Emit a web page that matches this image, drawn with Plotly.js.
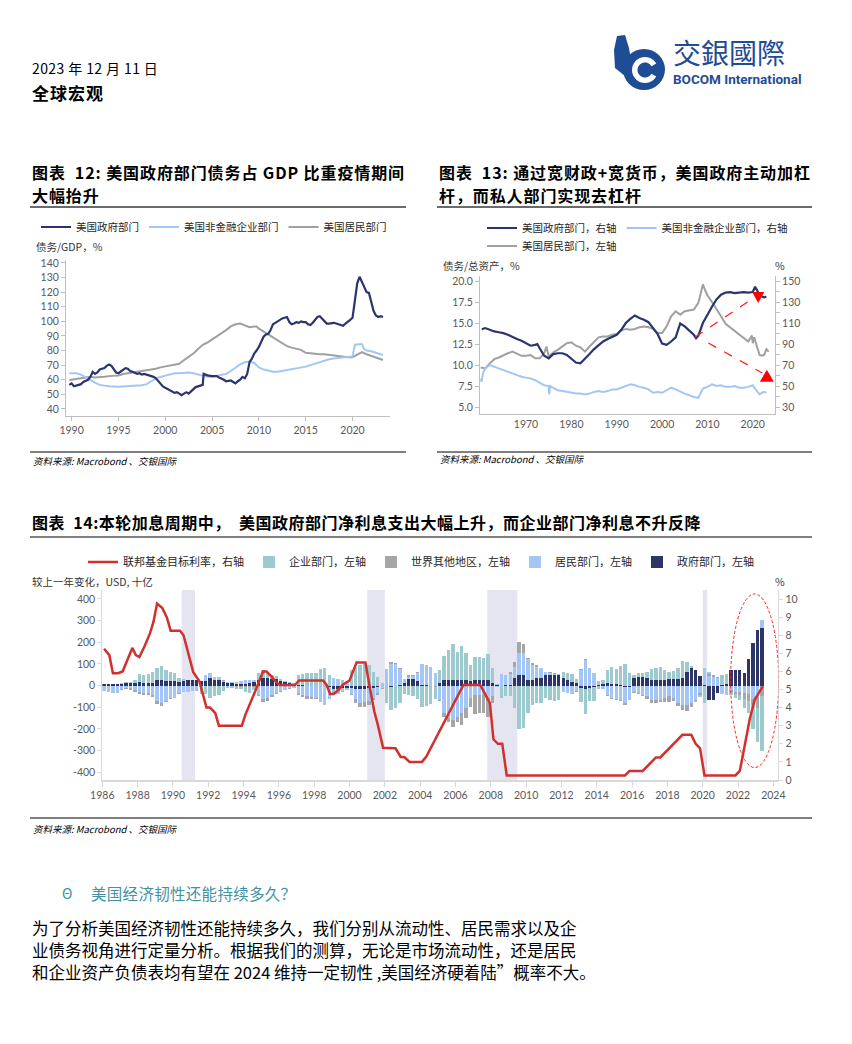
<!DOCTYPE html>
<html><head><meta charset="utf-8">
<script src="https://cdn.plot.ly/plotly-3.0.1.min.js"></script>
<style>html,body{margin:0;padding:0;background:#fff}#page{width:852px;height:1044px}</style>
</head><body><div id="page"></div>
<script>
// ================= DATA =================
// Chart 12: US debt / GDP (%)
const govGdpYears = [1989.75,1990,1990.25,1990.5,1990.75,1991,1991.25,1991.5,1991.75,1992,1992.25,1992.5,1992.75,1993,1993.25,1993.5,1993.75,1994,1994.25,1994.5,1994.75,1995,1995.25,1995.5,1995.75,1996,1996.25,1996.5,1996.75,1997,1997.25,1997.5,1997.75,1998,1998.25,1998.5,1998.75,1999,1999.25,1999.5,1999.75,2000,2000.25,2000.5,2000.75,2001,2001.25,2001.5,2001.75,2002,2002.25,2002.5,2002.75,2003,2003.25,2003.5,2003.75,2004,2004.1,2004.5,2005,2005.5,2005.75,2006,2006.25,2006.5,2006.75,2007,2007.25,2007.5,2007.75,2008,2008.25,2008.5,2008.75,2009,2009.25,2009.5,2009.75,2010,2010.25,2010.5,2010.75,2011,2011.25,2011.5,2011.75,2012,2012.25,2012.5,2012.75,2013,2013.25,2013.5,2013.75,2014,2014.25,2014.5,2014.75,2015,2015.25,2015.5,2015.75,2016,2016.25,2016.5,2016.75,2017,2017.25,2017.5,2017.75,2018,2018.25,2018.5,2018.75,2019,2019.25,2019.5,2019.75,2020,2020.25,2020.5,2020.75,2021,2021.25,2021.5,2021.75,2022,2022.25,2022.5,2022.75,2023,2023.25];
const govGdpVals = [56.5,57.5,55.5,56,56.5,57,58.5,59.5,60,62,65.5,64,65,67,67.5,68,69.5,70.5,69.5,67,65,64.5,65.5,67,68,67.5,66,65.5,64.5,64,64.5,63.5,64,63.5,63,63,62,61,59,57,55.5,54.5,53.5,52.5,51.5,51,51.5,50.5,49.5,50.5,51.5,50.5,52,53.5,55,55.5,56,56.5,64,63,62.5,62.5,61.5,61,60,59,59,59.5,58.5,57.5,59,60,62,61,64,72,74.5,78,80,82.5,86,89.5,91,91.5,94,98,99,100,101.5,102,102.5,103,99.5,98,98.5,99.5,99,100,99.5,99.5,98,97.5,99,101,103,103.5,102,100,98.5,98.5,99,99,98.5,98,97.5,97,98.5,99.5,101,102.5,115,126,130.5,127,123,120,119.5,113,107,104,103,103.5,103];
const corpGdpYears = [1989.75,1990.5,1991,1991.5,1992,1992.5,1993,1993.5,1994,1995,1996,1997,1997.5,1998,1998.5,1999,1999.5,2000,2000.5,2001,2001.5,2002,2002.5,2003,2003.5,2004,2004.5,2005,2005.5,2006,2006.5,2007,2007.5,2008,2008.5,2009,2009.5,2010,2010.5,2011,2011.5,2012,2012.5,2013,2013.5,2014,2014.5,2015,2015.5,2016,2016.5,2017,2017.5,2018,2018.5,2019,2019.5,2020,2020.25,2020.5,2020.75,2021,2021.25,2021.5,2022,2022.5,2023,2023.25];
const corpGdpVals = [64.5,64.5,63.5,62,60,58,56.5,56,55.5,55.3,55.8,55.8,56.2,57,59,61,62,63,64,64.5,64.5,65,65,64.5,63.5,62.5,62,62,62.5,63,64,66,68.5,70.5,72,72.5,71.5,68.5,67,66,65.5,65.5,66,66.5,67,67.5,68,69,70,71,72.5,73,74,74.5,75,75.5,76,76,84,84,84.5,84.5,81,80,79.5,78.5,77.5,77];
const hhGdpYears = [1989.75,1990.5,1991,1991.5,1992,1992.5,1993,1993.5,1994,1994.5,1995,1995.5,1996,1996.5,1997,1997.5,1998,1998.5,1999,1999.5,2000,2000.5,2001,2001.5,2002,2002.5,2003,2003.5,2004,2004.5,2005,2005.5,2006,2006.5,2007,2007.5,2008,2008.5,2009,2009.5,2009.75,2010,2010.5,2011,2011.5,2012,2012.5,2013,2013.5,2014,2014.5,2015,2015.5,2016,2016.5,2017,2017.5,2018,2018.5,2019,2019.5,2020,2020.5,2021,2021.5,2022,2022.5,2023,2023.25];
const hhGdpVals = [59.8,60.5,61,61.5,62,61.5,61.5,62,62.5,62.5,63,64,64.5,65,65.5,65.5,66,66.5,67.5,68.5,69,69.5,70.5,71,73.5,75.5,78,81,84,85.5,87.5,89.5,91.5,94,96.5,98,98.5,97.5,96,96.5,96.5,95,93,91,89.5,87.5,85,83,82,81.5,80.5,78.5,78,77.5,77.5,77.5,77,77,76.5,75.5,75.5,75.5,77.5,79,77.5,76.5,75.5,74.5,73.5];

// Chart 13: debt / total assets
const govAssetYears = [1960.25,1961,1962,1963,1964,1965,1966,1967,1968,1969,1970,1971,1972,1972.5,1973,1974,1975,1976,1977,1978,1979,1980,1981,1982,1983,1984,1985,1986,1987,1988,1989,1990,1991,1992,1993,1994,1995,1996,1997,1998,1999,2000,2001,2002,2003,2004,2005,2006,2007,2007.5,2008,2009,2010,2011,2012,2013,2014,2015,2016,2017,2018,2019,2020,2020.5,2021,2021.5,2022,2022.5,2023];
const govAssetVals = [104,105.2,103.6,102,101.2,100.4,98.8,96.4,94.8,93.2,90.8,88.4,89.2,90,86,78.8,76.4,80.4,81.2,81.2,79.6,76.4,72.4,71.6,75.6,80.4,85.2,89.2,92.4,94.8,97.2,98.8,103.6,110,114,117.2,114.8,113.2,110.8,105.2,99.6,90.5,89.2,92.4,96.4,109.6,106.8,102.8,98.8,95.6,98,110,118,125.5,132.4,137,139,139.5,138.5,139,139.5,139,139.5,144.5,141,136,135,134.5,135];
const corpAssetYears = [1960,1960.2,1960.5,1961,1962,1963,1964,1965,1966,1967,1968,1969,1970,1971,1972,1973,1974,1975,1975.1,1975.3,1976,1977,1978,1979,1980,1981,1982,1983,1984,1985,1986,1987,1988,1989,1990,1991,1992,1993,1994,1995,1996,1997,1998,1999,2000,2001,2002,2003,2004,2005,2006,2007,2008,2009,2009.5,2010,2011,2012,2013,2014,2015,2016,2017,2018,2019,2020,2020.5,2021,2021.5,2022,2022.5,2023];
const corpAssetVals = [57.2,54,62,66.8,70,68.4,66.8,65.2,63.6,62,60.4,58.8,58,57.2,55.6,53.2,50.8,50,42,50,48.4,46,45.2,44.4,43.6,42.8,42.8,42,42.8,44.4,45.2,44.4,45.2,46.8,46.8,48.4,50,51.6,50.8,49.2,48.4,46.8,43.6,44.4,43.6,46,48.4,46.8,44.4,42.8,41.2,39.6,38.8,47.6,48.4,49.2,51.6,50,50.8,49.2,49.2,50,48.4,48.4,49.2,50.8,47.6,44.4,42,43.6,44.4,43.6];
const hhAssetYears = [1960,1961,1962,1963,1964,1965,1966,1967,1968,1969,1970,1971,1972,1973,1974,1974.5,1975,1976,1977,1978,1979,1980,1981,1982,1983,1984,1985,1986,1987,1988,1989,1990,1991,1992,1993,1994,1995,1996,1997,1998,1999,2000,2001,2002,2003,2004,2005,2006,2007,2008,2009,2009.5,2010,2011,2012,2013,2014,2015,2016,2017,2018,2019,2019.8,2020,2020.3,2021,2021.5,2022,2022.5,2023,2023.5];
const hhAssetVals = [9.7,9.6,10.2,10.7,10.9,11.2,11.4,11.6,11.3,11.1,11.1,11.2,10.8,10.8,11.4,12.2,11.0,11.5,11.8,12.2,12.6,12.7,12.3,12.1,11.6,12.2,12.8,13.3,13.4,13.4,13.6,13.7,14.1,14.3,14.2,14.3,14.5,14.6,14.5,14.3,13.8,13.8,14.6,15.8,16.4,16.0,16.4,16.5,16.6,17.4,19.6,18.9,18.3,17.5,16.7,15.8,14.9,14.5,14.0,13.7,13.2,12.8,13.5,12.6,13.3,12.0,11.2,11.1,11.2,11.9,11.6];

// Chart 14: net interest change y/y (USD bn), quarterly from 1986Q1 to 2023Q2
const firstQuarterYear = 1986, quarterOffset = 0.1;
const govNetInt = [8,8,8,8, 8,10,10,12, 18,12,12,12, 25,25,22,20, 20,18,22,25, 25,25,22,20, 35,28,25,18, 12,10,8,8, 8,10,15,25, 34,35,33,30, 20,15,10,5, 2,2,0,0, 0,0,-2,-5, -15,-15,-12,-10, -12,-15,-15,-15, -12,-10,-5,-3, -3,-5,-3,2, 10,33,33,22, 5,3,0,-3, 10,25,25,25, 25,25,25,22, 26,28,28,26, 11,3,-2,3, 5,34,49,49, 26,26,34,37, 49,50,50,50, 35,25,15,10, -10,-15,-10,-5, 5,8,10,8, 8,5,-5,-5, 34,40,38,37, 26,26,26,26, 29,29,30,36, 65,80,72,46, 5,-66,-66,-35, 5,8,70,72, 70,60,123,198, 257,268];
const hhNetInt = [-25,-28,-30,-28, -15,-10,-12,-18, -30,-35,-35,-45, -72,-80,-70,-58, -55,-35,-30,-28, -25,-25,-20,30, 25,14,16,5, 5,8,10,12, 20,18,10,-45, -62,-58,-45,-35, -25,-18,-12,-10, -35,-45,-50,-52, -58,-75,-85,-55, 35,30,25,20, -25,-45,-65,-60, -60,-45,-30,-10, 75,100,98,75, 20,8,10,38, 95,92,85,60, -66,-128,-150,-158, -143,-128,-105,-58, -43,-43,-43,-58, -50,-5,52,45, 47,54,100,100, 97,69,54,43, 12,8,5,3, -30,-35,-40,-25, 70,118,80,60, 15,-15,-45,-55, -60,-65,-75,-60, -30,-35,-45,-50, -66,-68,-65,-58, -50,-55,-80,-88, -90,-82,-66,-35, 75,45,40,35, -40,-42,-20,-30, -30,-35,-40,-60, -54,35];
const rowNetInt = [0,0,0,0, -3,-5,-8,-10, -8,-8,-10,-8, -14,-12,-5,-3, -3,-2,0,0, 0,0,-3,-2, 0,0,-3,5, 0,0,-5,-8, -5,-5,-5,-5, -14,-12,-8,-5, -3,-3,-2,-2, -8,-8,-10,-8, -2,-2,-3,-2, 0,0,0,0, -5,-20,-17,-22, -17,-12,-8,-3, 0,8,5,5, 3,8,8,3, 0,0,-3,-2, -5,-15,-16,-34, -23,-53,-46,-39, -88,-85,-85,-85, -32,0,0,0, 10,20,54,42, 6,8,8,2, 3,3,3,2, 0,0,0,-5, 5,5,0,0, 0,0,-3,-5, -5,-5,-8,-3, -5,-5,-5,-10, -16,-13,-12,-16, -24,-18,-12,-24, -27,-15,-5,-8, 0,10,8,5, 0,0,-10,-10, -15,-25,-30,-25, -51,-50];
const corpNetInt = [0,0,-3,-5, 3,5,8,15, 35,38,40,50, 58,66,50,42, 37,16,8,3, 0,2,-15,-35, -58,-48,-40,-25, -10,-12,-10,-8, -25,-28,-15,35, 38,30,18,15, 10,8,5,5, 45,52,58,60, 60,78,82,48, -25,-22,-18,-10, 70,88,95,98, 95,65,40,10, -78,-108,-98,-80, -38,-45,-48,-60, -100,-95,-82,-55, 62,113,140,167, 132,158,124,73, 105,103,101,120, 69,5,-55,-50, -50,-105,-200,-194, -128,-89,-82,-82, -58,-65,-70,-65, 30,35,40,20, -65,-115,-60,-65, -15,20,62,80, 70,88,100,60, 15,20,20,25, 51,54,58,46, 33,39,53,78, 46,11,-5,-10, -82,10,0,0, 42,45,-15,-18, -20,-45,-58,-115, -153,-250];
// Fed funds target rate (%)
const fedYears = [1986.1,1986.4,1986.6,1986.9,1987.15,1987.4,1987.7,1987.9,1988.1,1988.4,1988.7,1988.9,1989.1,1989.4,1989.65,1989.87,1990.1,1990.4,1990.6,1990.8,1991.15,1991.5,1991.9,1992.1,1992.4,1992.6,1993.9,1994.1,1994.4,1994.7,1995.1,1995.3,1995.6,1995.8,1996.05,1996.9,1997.15,1998.5,1998.7,1998.9,1999.1,1999.4,1999.6,2000.0,2000.4,2000.9,2001.15,2001.4,2001.6,2001.9,2002.6,2002.9,2003.1,2003.4,2004.1,2004.35,2006.45,2007.4,2007.7,2007.95,2008.15,2008.4,2008.65,2008.9,2015.6,2015.85,2016.6,2016.85,2017.1,2017.35,2017.6,2017.85,2018.1,2018.35,2018.6,2018.85,2019.35,2019.6,2019.85,2020.1,2021.85,2022.1,2022.39,2022.67,2022.95,2023.22,2023.4];
const fedVals = [7.25,6.9,5.9,5.9,6.0,6.6,7.3,6.9,6.8,7.4,8.1,8.75,9.75,9.5,9.0,8.25,8.25,8.25,8.0,7.3,5.96,5.45,4.0,4.0,3.7,3.0,3.0,3.6,4.25,5.0,6.0,6.0,5.7,5.45,5.25,5.25,5.5,5.5,5.25,4.75,4.75,5.0,5.25,5.5,6.5,6.5,5.1,3.8,3.06,1.78,1.75,1.27,1.27,1.0,1.0,1.3,5.25,5.25,4.7,4.25,2.25,2.0,2.0,0.25,0.25,0.5,0.5,0.75,1.0,1.25,1.25,1.5,1.75,2.0,2.25,2.5,2.5,2.0,1.75,0.25,0.25,0.5,1.96,3.4,4.45,4.9,5.17];
// US recessions
const recessionStart = [1990.5, 2001.0, 2007.8, 2020.0];
const recessionEnd   = [1991.25, 2002.0, 2009.5, 2020.25];

// tick labels
const ch14LeftTicks = [-400,-300,-200,-100,0,100,200,300,400];
const ch13XTicks = [1970,1980,1990,2000,2010,2020];

// ================= LAYOUT HELPERS =================
const W = 852, H = 1044;
const PX = x => x / W, PY = y => 1 - y / H;
const CJK = '"Noto Sans CJK SC", "Noto Sans", sans-serif';
const NUM = 'Lato, "Noto Sans", sans-serif';
const NAVY = '#2B3470', LBLUE = '#A3C6F6', GRAY = '#A0A0A0';
const TEAL = '#9CCACF', BGRAY = '#A6A6A6', BNAVY = '#2D3566', RED = '#D1302C';
const TICK = {family: NUM, size: 10.5, color: '#595959'};
const AXC = '#BFBFBF';

function sp(text, ls) { return '<span style="letter-spacing:' + ls + 'px">' + text + '</span>'; }
function note(x, y, text, size, opt) {
  opt = opt || {};
  return {xref:'paper', yref:'paper', x:PX(x), y:PY(y), text:text, showarrow:false,
    xanchor: opt.xanchor || 'left', yanchor:'middle',
    font:{family: opt.family || CJK, size:size, color: opt.color || '#000'}};
}
function rule(x0, x1, y, w, c) {
  return {type:'line', xref:'paper', yref:'paper', x0:PX(x0), x1:PX(x1), y0:PY(y), y1:PY(y), line:{color:c || '#3A3A3A', width:w || 1.5}};
}
function pxPath(points) {
  return 'M' + points.map(p => PX(p[0]).toFixed(5) + ',' + PY(p[1]).toFixed(5)).join(' L') + ' Z';
}
// logo geometry (decorative)
function ringPoints(cx, cy, r1, r2, a0, a1) {
  const pts = [];
  for (let a = a0; a <= a1; a += 10) pts.push([cx + r1 * Math.cos(a * Math.PI / 180), cy - r1 * Math.sin(a * Math.PI / 180)]);
  for (let a = a1; a >= a0; a -= 10) pts.push([cx + r2 * Math.cos(a * Math.PI / 180), cy - r2 * Math.sin(a * Math.PI / 180)]);
  return pts;
}

// ================= TRACES =================
const quarterX = govNetInt.map((_, i) => firstQuarterYear + quarterOffset + i * 0.25);
const traces = [
  // chart 12
  {x: hhGdpYears, y: hhGdpVals, type:'scatter', mode:'lines', name:'美国居民部门', line:{color:GRAY, width:2}, xaxis:'x', yaxis:'y', legend:'legend'},
  {x: corpGdpYears, y: corpGdpVals, type:'scatter', mode:'lines', name:'美国非金融企业部门', line:{color:LBLUE, width:2}, xaxis:'x', yaxis:'y', legend:'legend'},
  {x: govGdpYears, y: govGdpVals, type:'scatter', mode:'lines', name:'美国政府部门', line:{color:NAVY, width:2.2}, xaxis:'x', yaxis:'y', legend:'legend'},
  // chart 13
  {x: hhAssetYears, y: hhAssetVals, type:'scatter', mode:'lines', name:'美国居民部门，左轴', line:{color:GRAY, width:2}, xaxis:'x2', yaxis:'y2', legend:'legend3'},
  {x: govAssetYears, y: govAssetVals, type:'scatter', mode:'lines', name:'美国政府部门，右轴', line:{color:NAVY, width:2.2}, xaxis:'x2', yaxis:'y3', legend:'legend2'},
  {x: corpAssetYears, y: corpAssetVals, type:'scatter', mode:'lines', name:'美国非金融企业部门，右轴', line:{color:LBLUE, width:2}, xaxis:'x2', yaxis:'y3', legend:'legend2'},
  // chart 14 bars (stack order: gov, hh, row, corp)
  {x: quarterX, y: govNetInt, type:'bar', name:'政府部门，左轴', marker:{color:BNAVY, line:{width:0}}, width:0.19, xaxis:'x3', yaxis:'y4', legend:'legend4'},
  {x: quarterX, y: hhNetInt, type:'bar', name:'居民部门，左轴', marker:{color:LBLUE, line:{width:0}}, width:0.19, xaxis:'x3', yaxis:'y4', legend:'legend4'},
  {x: quarterX, y: rowNetInt, type:'bar', name:'世界其他地区，左轴', marker:{color:BGRAY, line:{width:0}}, width:0.19, xaxis:'x3', yaxis:'y4', legend:'legend4'},
  {x: quarterX, y: corpNetInt, type:'bar', name:'企业部门，左轴', marker:{color:TEAL, line:{width:0}}, width:0.19, xaxis:'x3', yaxis:'y4', legend:'legend4'},
  {x: fedYears, y: fedVals, type:'scatter', mode:'lines', name:'联邦基金目标利率，右轴', line:{color:RED, width:2.5}, xaxis:'x3', yaxis:'y5', legend:'legend4'}
];

// ================= SHAPES =================
const shapes = [
  rule(30, 406, 207, 1.5), rule(437, 812, 207, 1.5),
  rule(30, 406, 452, 1.5, '#555'), rule(437, 812, 452, 1.5, '#555'),
  rule(30, 812, 537, 1.5, '#555'), rule(30, 812, 818, 1.5, '#555'),
  // logo
  {type:'path', xref:'paper', yref:'paper', path: pxPath([[617,36],[625,35],[629,48],[631,60],[625,76],[615,68],[614,50]]), fillcolor:'#1E4D96', line:{width:0}},
  {type:'circle', xref:'paper', yref:'paper', x0:PX(623), x1:PX(665), y0:PY(90), y1:PY(49), fillcolor:'#1E4D96', line:{width:0}},
  {type:'path', xref:'paper', yref:'paper', path: pxPath(ringPoints(645, 70, 13, 7.5, 30, 330)), fillcolor:'#FFFFFF', line:{width:0}},
  // chart 13 red dashed arrows
  {type:'line', xref:'x2', yref:'y2', x0:2007.3, y0:13.33, x1:2020.8, y1:18.2, line:{color:'#FF2020', width:1.3, dash:'dash'}},
  {type:'path', xref:'x2', yref:'y2', xsizemode:'pixel', ysizemode:'pixel', xanchor:2021.2, yanchor:18.1, path:'M-6,5 L6,5 L0,-6 Z', fillcolor:'#FF0000', line:{width:0}},
  {type:'line', xref:'x2', yref:'y2', x0:2010.2, y0:12.62, x1:2022.1, y1:9.05, line:{color:'#FF2020', width:1.3, dash:'dash'}},
  {type:'path', xref:'x2', yref:'y2', xsizemode:'pixel', ysizemode:'pixel', xanchor:2023.1, yanchor:8.6, path:'M-7,-5 L7,-5 L0,7 Z', fillcolor:'#FF0000', line:{width:0}},
  // chart 14 ellipse
  {type:'circle', xref:'x3', yref:'y4', x0:2021.58, x1:2024.3, y0:-378, y1:423, line:{color:'#FF2020', width:1, dash:'3px,2px'}, fillcolor:'rgba(0,0,0,0)'}
];
recessionStart.forEach((s, i) => shapes.push({type:'rect', xref:'x3', yref:'y4 domain', x0:s, x1:recessionEnd[i], y0:0, y1:1, fillcolor:'#E5E5F2', line:{width:0}, layer:'below'}));

// ================= ANNOTATIONS =================
const annotations = [
  note(30, 68, sp('2023 年 12 月 11 日', 0.4), 14),
  note(30, 93, '<b>' + sp('全球宏观', 1) + '</b>', 17),
  note(671, 52, '交銀國際', 28, {family:'"Noto Sans CJK TC", sans-serif', color:'#1E4D96'}),
  note(671, 79, '<b>BOCOM International</b>', 13.5, {family:'Roboto, sans-serif', color:'#1E4D96'}),
  note(30, 172, '<b>' + sp('图表  12: 美国政府部门债务占 GDP 比重疫情期间', 0.9) + '</b>', 16),
  note(30, 195, '<b>' + sp('大幅抬升', 0.9) + '</b>', 16),
  note(437, 172, '<b>' + sp('图表  13: 通过宽财政+宽货币，美国政府主动加杠', 0.9) + '</b>', 16),
  note(437, 195, '<b>' + sp('杆，而私人部门实现去杠杆', 0.9) + '</b>', 16),
  note(34, 246, '债务/GDP，%', 10.5, {color:'#333'}),
  note(441, 265, '债务/总资产，%', 10.5, {color:'#333'}),
  note(773, 265, '%', 10.5, {color:'#333'}),
  note(31, 461, '<i>资料来源: Macrobond 、交银国际</i>', 9.5),
  note(438, 459, '<i>资料来源: Macrobond 、交银国际</i>', 9.5),
  note(30, 522, '<b>' + sp('图表  14:本轮加息周期中，  美国政府部门净利息支出大幅上升，而企业部门净利息不升反降', 0.5) + '</b>', 16),
  note(30, 581, '较上一年变化，USD, 十亿', 10.5, {color:'#333'}),
  note(773, 581, '%', 10.5, {color:'#333'}),
  note(31, 829, '<i>资料来源: Macrobond 、交银国际</i>', 9.5),
  note(60, 893, 'Θ', 14, {color:'#3F93A3'}),
  note(89, 893, sp('美国经济韧性还能持续多久？', 0.3), 15.5, {color:'#3F93A3'}),
  note(30, 928, '为了分析美国经济韧性还能持续多久，我们分别从流动性、居民需求以及企', 16.5),
  note(30, 950, '业债务视角进行定量分析。根据我们的测算，无论是市场流动性，还是居民', 16.5),
  note(30, 972, '和企业资产负债表均有望在 2024 维持一定韧性 ,美国经济硬着陆”概率不大。', 16.5)
];

const legFont = {family: CJK, size: 10.5, color: '#262626'};
const layout = {
  width: W, height: H, margin: {l:0, r:0, t:0, b:0},
  paper_bgcolor: '#fff', plot_bgcolor: '#fff',
  font: {family: CJK, size: 10.5, color: '#333'},
  barmode: 'relative', bargap: 0,
  hovermode: false,
  legend:  {orientation:'h', x:PX(214), xanchor:'center', y:PY(227), yanchor:'middle', traceorder:'reversed', font:legFont, bgcolor:'rgba(0,0,0,0)'},
  legend2: {orientation:'h', x:PX(482), xanchor:'left', y:PY(228), yanchor:'middle', traceorder:'normal', font:legFont, bgcolor:'rgba(0,0,0,0)'},
  legend3: {orientation:'h', x:PX(482), xanchor:'left', y:PY(246), yanchor:'middle', font:legFont, bgcolor:'rgba(0,0,0,0)'},
  legend4: {orientation:'h', x:PX(421), xanchor:'center', y:PY(562), yanchor:'middle', traceorder:'reversed', font:{family:CJK, size:11, color:'#262626'}, bgcolor:'rgba(0,0,0,0)'},
  // chart 12
  xaxis: {domain:[PX(66), PX(390)], range:[1989.4, 2024.0], anchor:'y', tick0:1990, dtick:5, showgrid:false, zeroline:false,
          showline:true, linecolor:AXC, ticks:'outside', ticklen:4, tickcolor:AXC, tickfont:TICK},
  yaxis: {domain:[PY(416), PY(260)], range:[35.2, 142], anchor:'x', tick0:40, dtick:10, showgrid:false, zeroline:false,
          showline:true, linecolor:AXC, ticks:'outside', ticklen:4, tickcolor:AXC, tickfont:TICK},
  // chart 13
  xaxis2: {domain:[PX(480), PX(775)], range:[1959.85, 2024.9], anchor:'y2', tickvals:ch13XTicks, showgrid:false, zeroline:false,
           showline:true, linecolor:AXC, ticks:'', tickfont:TICK},
  yaxis2: {domain:[PY(414), PY(276)], range:[4.17, 20.6], anchor:'x2', tick0:5, dtick:2.5, tickformat:'.1f', showgrid:false, zeroline:false,
           showline:true, linecolor:AXC, ticks:'outside', ticklen:4, tickcolor:AXC, tickfont:TICK},
  yaxis3: {overlaying:'y2', side:'right', anchor:'x2', range:[23.36, 154.8], tick0:30, dtick:20, showgrid:false, zeroline:false,
           showline:true, linecolor:AXC, ticks:'outside', ticklen:4, tickcolor:AXC, tickfont:TICK,
           minor:{dtick:10, tick0:30, ticks:'outside', ticklen:4, tickcolor:AXC, showgrid:false}},
  // chart 14
  xaxis3: {domain:[PX(102.3), PX(778.3)], range:[1986, 2024.28], anchor:'y4', tick0:1986, dtick:2, showgrid:false, zeroline:false,
           showline:true, linecolor:'#D9D9D9', linewidth:1.5, ticks:'outside', ticklen:5, tickcolor:'#D9D9D9', tickfont:TICK},
  yaxis4: {domain:[PY(780), PY(590)], range:[-435.5, 441.5], anchor:'x3', tickvals:ch14LeftTicks, ticktext:ch14LeftTicks.map(String),
           showgrid:false, zeroline:false, showline:true, linecolor:'#D9D9D9', ticks:'outside', ticklen:4, tickcolor:'#D9D9D9', tickfont:TICK},
  yaxis5: {overlaying:'y4', side:'right', anchor:'x3', range:[0, 10.5], tick0:0, dtick:1, showgrid:false, zeroline:false,
           showline:true, linecolor:'#D9D9D9', ticks:'outside', ticklen:4, tickcolor:'#D9D9D9', tickfont:TICK},
  shapes: shapes,
  annotations: annotations
};

Plotly.newPlot('page', traces, layout, {staticPlot: true, displayModeBar: false});
</script>
</body></html>
